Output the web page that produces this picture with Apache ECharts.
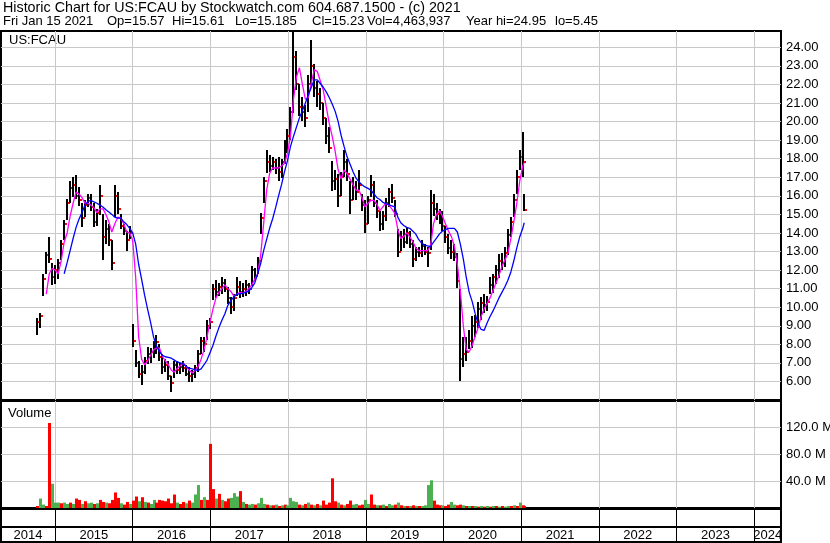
<!DOCTYPE html>
<html><head><meta charset="utf-8">
<script src="https://cdn.jsdelivr.net/npm/echarts@6/dist/echarts.min.js"></script>
<style>html,body{margin:0;padding:0;background:#fff}#c{width:830px;height:543px}</style>
</head><body><div id="c"></div>
<script>
// ---- data (bi-weekly bars) ----
const dates = [
'2014-10-10','2014-10-24','2014-11-07','2014-11-21','2014-12-05','2014-12-19',
'2015-01-02','2015-01-16','2015-01-30','2015-02-13','2015-02-27','2015-03-13','2015-03-27','2015-04-10','2015-04-24','2015-05-08','2015-05-22','2015-06-05','2015-06-19','2015-07-03','2015-07-17','2015-07-31','2015-08-14','2015-08-28','2015-09-11','2015-09-25','2015-10-09','2015-10-23','2015-11-06','2015-11-20','2015-12-04','2015-12-18',
'2016-01-01','2016-01-15','2016-01-29','2016-02-12','2016-02-26','2016-03-11','2016-03-25','2016-04-08','2016-04-22','2016-05-06','2016-05-20','2016-06-03','2016-06-17','2016-07-01','2016-07-15','2016-07-29','2016-08-12','2016-08-26','2016-09-09','2016-09-23','2016-10-07','2016-10-21','2016-11-04','2016-11-18','2016-12-02','2016-12-16','2016-12-30',
'2017-01-13','2017-01-27','2017-02-10','2017-02-24','2017-03-10','2017-03-24','2017-04-07','2017-04-21','2017-05-05','2017-05-19','2017-06-02','2017-06-16','2017-06-30','2017-07-14','2017-07-28','2017-08-11','2017-08-25','2017-09-08','2017-09-22','2017-10-06','2017-10-20','2017-11-03','2017-11-17','2017-12-01','2017-12-15','2017-12-29',
'2018-01-12','2018-01-26','2018-02-09','2018-02-23','2018-03-09','2018-03-23','2018-04-06','2018-04-20','2018-05-04','2018-05-18','2018-06-01','2018-06-15','2018-06-29','2018-07-13','2018-07-27','2018-08-10','2018-08-24','2018-09-07','2018-09-21','2018-10-05','2018-10-19','2018-11-02','2018-11-16','2018-11-30','2018-12-14','2018-12-28',
'2019-01-11','2019-01-25','2019-02-08','2019-02-22','2019-03-08','2019-03-22','2019-04-05','2019-04-19','2019-05-03','2019-05-17','2019-05-31','2019-06-14','2019-06-28','2019-07-12','2019-07-26','2019-08-09','2019-08-23','2019-09-06','2019-09-20','2019-10-04','2019-10-18','2019-11-01','2019-11-15','2019-11-29','2019-12-13','2019-12-27',
'2020-01-10','2020-01-24','2020-02-07','2020-02-21','2020-03-06','2020-03-20','2020-04-03','2020-04-17','2020-05-01','2020-05-15','2020-05-29','2020-06-12','2020-06-26','2020-07-10','2020-07-24','2020-08-07','2020-08-21','2020-09-04','2020-09-18','2020-10-02','2020-10-16','2020-10-30','2020-11-13','2020-11-27','2020-12-11','2020-12-25',
'2021-01-08','2021-01-15'];

const lows = [
8.5,8.9,10.6,11.8,12.4,11.2,11.3,11.5,12.5,13.6,
14.7,15.6,15.9,15.8,15.5,14.3,14.85,15.4,15.2,14.3,
14.4,15.0,12.5,13.4,13.3,12.0,14.85,15.0,14.2,13.9,
13.0,13.7,7.85,6.8,6.2,5.8,6.4,6.95,7.0,7.3,
7.5,7.1,6.4,6.5,6.05,5.45,6.2,6.4,6.4,6.5,
6.3,6.0,5.95,6.2,6.5,7.5,7.6,8.2,8.8,10.4,
10.5,10.6,10.7,10.8,10.2,9.65,9.8,10.6,10.5,10.55,
10.6,10.7,11.1,11.4,11.8,13.95,15.6,17.2,17.3,17.4,
17.2,16.8,17.0,17.7,18.3,19.0,20.5,21.7,20.25,20.0,
19.7,20.5,22.0,21.3,20.8,20.6,19.8,18.8,18.3,16.3,
16.3,15.4,16.0,17.0,16.8,15.0,15.76,15.8,16.3,15.2,
13.96,14.5,15.9,15.4,14.8,14.1,14.2,14.68,15.4,15.6,
14.86,12.7,13.0,13.2,13.4,13.2,12.16,12.5,12.7,12.7,
12.8,12.16,13.06,14.9,14.7,14.5,14.1,13.5,12.88,12.6,
12.5,11.0,6.06,6.8,7.1,7.7,7.8,8.4,8.9,9.3,
9.65,9.8,10.7,10.8,11.3,11.6,12.0,12.16,12.8,13.78,
14.86,16.1,17.37,17.0,15.185];

const highs = [
9.4,9.7,11.8,13.0,13.8,12.4,12.3,12.6,13.6,14.7,
15.85,16.8,17.0,17.1,16.5,15.6,15.75,16.1,16.1,15.6,
15.3,16.6,15.0,14.7,14.5,13.6,16.6,16.2,15.0,14.5,
14.1,14.4,9.1,7.7,7.1,6.9,7.3,7.85,7.8,8.2,
8.5,8.0,7.5,7.2,7.1,6.3,7.1,7.1,7.0,7.1,
6.9,6.8,6.6,6.9,7.7,8.4,8.4,9.3,9.4,11.25,
11.45,11.3,11.6,11.5,11.1,10.55,10.7,11.6,11.4,11.3,
11.45,11.3,12.2,12.1,12.7,15.1,17.0,18.45,18.2,18.1,
18.0,18.1,18.0,19.0,19.6,20.8,24.95,23.8,22.0,21.3,
20.9,22.5,24.4,23.1,22.2,21.8,21.0,20.2,19.7,17.9,
17.4,17.2,17.3,18.45,18.0,16.8,17.0,16.8,17.4,16.1,
15.76,16.0,17.1,16.8,15.76,15.2,15.2,15.9,16.4,16.65,
15.76,14.2,14.1,14.2,14.3,14.1,13.6,13.24,13.24,13.6,
13.4,13.24,16.3,16.1,15.6,15.3,15.2,14.4,13.96,13.6,
13.4,12.9,11.0,8.4,8.4,8.75,9.5,9.6,10.3,10.55,
10.7,10.6,11.6,11.8,12.3,12.88,12.9,13.24,14.2,14.86,
16.1,17.37,18.45,19.44,16.1];

const closes = [
9.2,9.5,11.5,12.8,12.6,11.6,12.0,12.4,13.4,14.5,
15.6,16.4,16.6,16.0,15.8,14.8,15.5,15.9,15.4,14.6,
15.1,16.0,13.8,14.2,13.6,12.4,16.0,15.3,14.4,14.1,
13.6,14.0,8.2,7.0,6.4,6.5,7.1,7.5,7.6,8.0,
8.1,7.3,6.8,6.9,6.3,5.9,6.9,6.6,6.8,6.7,
6.4,6.3,6.4,6.7,7.5,8.2,8.0,9.0,9.2,11.0,
10.8,11.1,11.3,11.0,10.5,10.0,10.5,11.1,10.8,11.0,
11.2,11.0,12.0,11.7,12.5,14.8,16.8,17.8,17.6,17.8,
17.5,17.3,17.8,18.6,19.2,20.5,23.5,22.0,20.8,20.5,
20.2,22.0,23.0,21.8,21.5,21.0,20.2,19.2,18.6,16.8,
16.9,16.0,17.0,17.8,17.2,15.8,16.5,16.2,16.6,15.5,
14.5,15.8,16.6,15.6,15.2,14.5,14.9,15.6,16.2,15.9,
15.0,13.0,13.8,13.5,14.0,13.4,12.6,13.0,12.9,13.3,
13.0,12.9,15.6,15.3,15.0,14.8,14.4,13.8,13.2,13.0,
12.7,11.4,7.2,7.5,7.6,8.2,9.0,9.2,9.9,10.2,
10.1,10.3,11.2,11.6,12.0,12.5,12.4,12.9,13.9,14.6,
15.8,17.0,18.1,17.8,15.23];

// magenta moving average
const maFast = [
null,null,null,10.7,11.8,12.1,12.0,11.8,12.5,13.5,
14.0,14.9,15.6,16.2,16.1,15.9,15.6,15.6,15.5,15.35,
15.1,15.3,15.3,15.0,14.6,14.05,14.5,14.85,14.8,14.5,
14.05,14.0,13.6,11.6,8.4,7.2,6.9,7.1,7.4,7.7,
7.8,7.8,7.35,7.1,6.9,6.6,6.5,6.7,6.85,7.0,
6.8,6.6,6.45,6.6,6.8,7.2,7.7,8.4,9.2,9.9,
10.5,10.8,11.0,11.2,11.0,10.85,10.6,10.7,10.8,10.75,
10.85,11.0,11.2,11.5,11.8,12.8,14.5,16.3,17.2,17.5,
17.5,17.5,17.6,17.75,18.3,19.2,21.2,22.4,22.9,22.0,
21.2,21.3,22.1,22.8,22.7,22.2,21.7,20.8,19.9,19.2,
18.4,17.4,16.9,17.4,17.2,16.9,16.6,16.3,16.3,15.9,
15.4,15.6,15.75,15.75,15.55,15.2,15.4,15.6,15.5,15.3,
15.05,14.2,13.7,13.8,14.0,13.8,13.55,13.2,13.05,13.05,
13.05,13.05,13.3,14.5,15.0,15.2,14.9,14.5,14.1,13.8,
13.3,12.3,10.9,9.0,7.7,7.6,7.95,8.45,8.9,9.5,
9.9,10.2,10.5,10.9,11.3,11.7,12.2,12.55,12.9,13.7,
14.6,15.6,16.8,17.6,17.8];

// blue moving average
const maSlow = [
null,null,null,null,null,null,null,null,null,11.8,
12.4,13.05,13.7,14.3,14.75,15.1,15.5,15.7,15.75,15.67,
15.6,15.5,15.4,15.25,15.13,15.0,14.85,14.8,14.8,14.6,
14.45,14.25,14.0,13.4,12.3,11.5,10.65,9.9,9.2,8.4,
7.9,7.6,7.4,7.33,7.3,7.25,7.15,7.05,7.0,6.95,
6.8,6.72,6.68,6.62,6.6,6.68,6.9,7.15,7.55,7.95,
8.45,8.9,9.3,9.65,10.1,10.35,10.55,10.7,10.72,10.75,
10.8,10.87,11.05,11.3,11.8,12.35,13.05,13.65,14.25,14.75,
15.35,16.0,16.6,17.3,17.9,18.65,19.2,19.7,20.2,20.6,
21.0,21.45,21.85,22.25,22.25,22.05,21.85,21.6,21.3,20.95,
20.55,20.0,19.25,18.65,18.1,17.7,17.3,16.95,16.75,16.6,
16.48,16.4,16.3,16.1,15.9,15.8,15.65,15.58,15.52,15.46,
15.4,14.85,14.55,14.4,14.3,14.25,14.1,13.95,13.65,13.45,
13.35,13.3,13.27,13.5,13.72,13.95,14.1,14.18,14.25,14.25,
14.25,14.05,13.4,12.6,11.6,10.8,10.3,9.65,9.1,8.8,
8.75,9.15,9.5,9.8,10.15,10.5,10.8,11.1,11.45,11.9,
12.5,13.2,13.8,14.25,14.55];

// volume in millions of shares, and direction (1 = up / green, -1 = down / red)
const volumes = [
3,14,5,3,126,36,8,8,7,8,
6,8,6,14,12,6,10,7,8,6,
7,12,9,8,7,12,23,15,7,5,
9,6,11,17,10,16,9,8,6,12,
8,12,11,10,14,7,20,8,6,9,
7,11,8,20,34,12,16,12,95,28,
14,21,12,10,14,15,22,17,25,9,
6,5,6,5,7,15,6,5,4,4,
5,3,4,5,4,15,10,9,5,4,
6,8,5,4,6,4,11,5,8,44,
10,8,5,4,6,11,5,6,4,5,
12,6,20,5,4,4,5,3,6,4,
5,8,4,3,3,3,4,3,3,3,
4,34,41,11,5,4,4,3,5,9,
5,4,5,4,3,3,3,3,2,3,
2,3,2,3,3,2,3,2,3,3,
4,3,8,4,3];
const volDir = [
-1,1,1,-1,-1,1,1,1,-1,1,
1,-1,1,-1,-1,1,-1,1,1,-1,
1,-1,-1,1,-1,-1,-1,-1,1,-1,
-1,1,-1,-1,1,-1,1,-1,1,1,
-1,-1,-1,-1,-1,-1,-1,1,-1,-1,
1,-1,1,1,1,-1,1,-1,-1,-1,
1,-1,1,-1,-1,1,1,1,-1,1,
-1,1,1,-1,1,1,1,-1,1,-1,
1,-1,1,-1,1,1,1,1,-1,1,
-1,1,-1,1,-1,1,-1,-1,-1,-1,
-1,1,-1,1,-1,-1,1,1,-1,-1,
1,1,-1,-1,1,-1,1,-1,1,1,
-1,1,-1,1,-1,1,-1,1,-1,1,
1,1,1,-1,-1,-1,1,-1,-1,1,
1,-1,-1,1,-1,1,-1,1,-1,1,
-1,1,-1,1,-1,1,-1,1,1,-1,
1,-1,1,-1,-1];

const yearLines = [2015,2016,2017,2018,2019,2020,2021,2022,2023,2024];
const yearNames = ['2014','2015','2016','2017','2018','2019','2020','2021','2022','2023','2024'];

// ---- helpers ----
function toYear(s){
  const p = s.split('-').map(Number);
  const t = Date.UTC(p[0], p[1]-1, p[2]);
  const a = Date.UTC(p[0],0,1), b = Date.UTC(p[0]+1,0,1);
  return p[0] + (t-a)/(b-a);
}
const XMIN = 2014.3051, XMAX = 2024.3424;
const FONT = '"Liberation Sans", Arial, sans-serif';
const GRIDC = '#c8c8c8';

const xs = dates.map(toYear);
const priceData = xs.map((x,i)=>[x, lows[i], highs[i], closes[i]]);
const fastData = xs.map((x,i)=>[x, maFast[i]]).filter(d=>d[1]!==null);
const slowData = xs.map((x,i)=>[x, maSlow[i]]).filter(d=>d[1]!==null);
const volData = xs.map((x,i)=>[x, volumes[i], volDir[i]]);
const labelPos = yearNames.map(n=>{ const y=+n; return (Math.max(y,XMIN)+Math.min(y+1,XMAX))/2; });

function xAxisFor(gi, lineColor, withLabels){
  return {
    type:'value', gridIndex: gi, min: XMIN, max: XMAX,
    axisLine:{show:false},
    axisTick:{show:false, customValues: yearLines},
    axisLabel: withLabels ? {
      show:true, customValues: labelPos, inside:true, margin:7, verticalAlign:'middle',
      formatter: v => String(Math.floor(v)), color:'#000', fontSize:13, fontFamily: FONT
    } : {show:false},
    splitLine:{show:true, lineStyle:{color: lineColor, width:1}}
  };
}
function gridAt(top, height){
  return {left:1, top:top, width:780, height:height, show:true, borderColor:'#000', borderWidth:2,
          containLabel:false, outerBoundsMode:'none'};
}

const chart = echarts.init(document.getElementById('c'), null, {renderer:'canvas'});
chart.setOption({
  animation:false,
  backgroundColor:'#fff',
  grid:[ gridAt(31,369), gridAt(401,107), gridAt(509,18), gridAt(527,15) ],
  xAxis:[
    xAxisFor(0, GRIDC, false),
    xAxisFor(1, GRIDC, false),
    xAxisFor(2, '#000', false),
    xAxisFor(3, '#000', true)
  ],
  yAxis:[
    {type:'value', gridIndex:0, position:'right', min:5, max:24.88, interval:1,
     axisLine:{show:false}, axisTick:{show:false},
     axisLabel:{formatter: v=>v.toFixed(2), showMinLabel:false, showMaxLabel:false, margin:5,
       color:'#000', fontSize:13, fontFamily:FONT},
     splitLine:{show:true, showMinLine:false, showMaxLine:false, lineStyle:{color:GRIDC, width:1}}},
    {type:'value', gridIndex:1, position:'right', min:0, max:158.5, interval:40,
     axisLine:{show:false}, axisTick:{show:false},
     axisLabel:{formatter: v=>v.toFixed(1)+' M', showMinLabel:false, showMaxLabel:false, margin:5,
       color:'#000', fontSize:13, fontFamily:FONT},
     splitLine:{show:true, showMinLine:false, showMaxLine:false, lineStyle:{color:GRIDC, width:1}}},
    {type:'value', gridIndex:2, show:false, min:0, max:1, splitLine:{show:false}},
    {type:'value', gridIndex:3, show:false, min:0, max:1, splitLine:{show:false}}
  ],
  series:[
    {type:'custom', xAxisIndex:0, yAxisIndex:0, clip:true, data: priceData,
     encode:{x:0, y:[1,2,3]},
     renderItem:(params, api)=>{
       const x=api.value(0), lo=api.value(1), hi=api.value(2), cl=api.value(3);
       const pH=api.coord([x,hi]), pL=api.coord([x,lo]), pC=api.coord([x,cl]);
       const cx=Math.round(pH[0]);
       return {type:'group', children:[
         {type:'rect', shape:{x:cx-1, y:Math.round(pH[1]), width:2, height:Math.max(2, Math.round(pL[1]-pH[1]))}, style:{fill:'#000'}},
         {type:'rect', shape:{x:cx+1, y:Math.round(pC[1])-1, width:2, height:2}, style:{fill:'#ff0000'}}
       ]};
     }},
    {type:'line', xAxisIndex:0, yAxisIndex:0, data: fastData, showSymbol:false, smooth:false,
     lineStyle:{color:'#ff00ff', width:1.3}, itemStyle:{color:'#ff00ff'}, z:3},
    {type:'line', xAxisIndex:0, yAxisIndex:0, data: slowData, showSymbol:false, smooth:false,
     lineStyle:{color:'#0000ff', width:1.3}, itemStyle:{color:'#0000ff'}, z:4},
    {type:'custom', xAxisIndex:1, yAxisIndex:1, clip:true, data: volData,
     encode:{x:0, y:1},
     renderItem:(params, api)=>{
       const x=api.value(0), v=api.value(1), d=api.value(2);
       const p0=api.coord([x,0]), p1=api.coord([x,v]);
       return {type:'rect', shape:{x:Math.round(p0[0])-1, y:p1[1], width:3, height:p0[1]-p1[1]},
         style:{fill: d>0 ? '#4caf50' : '#ff0000'}};
     }}
  ],
  graphic:[
    {type:'text', left:3, top:1, style:{text:'Historic Chart for US:FCAU by Stockwatch.com 604.687.1500 - (c) 2021', font:'14.3px '+FONT, fill:'#000'}},
    {type:'text', left:3, top:15, style:{text:'Fri Jan 15 2021', font:'13px '+FONT, fill:'#000'}},
    {type:'text', left:107, top:15, style:{text:'Op=15.57', font:'13px '+FONT, fill:'#000'}},
    {type:'text', left:172, top:15, style:{text:'Hi=15.61', font:'13px '+FONT, fill:'#000'}},
    {type:'text', left:235, top:15, style:{text:'Lo=15.185', font:'13px '+FONT, fill:'#000'}},
    {type:'text', left:312, top:15, style:{text:'Cl=15.23', font:'13px '+FONT, fill:'#000'}},
    {type:'text', left:367, top:15, style:{text:'Vol=4,463,937', font:'13px '+FONT, fill:'#000'}},
    {type:'text', left:466, top:15, style:{text:'Year hi=24.95', font:'13px '+FONT, fill:'#000'}},
    {type:'text', left:555, top:15, style:{text:'lo=5.45', font:'13px '+FONT, fill:'#000'}},
    {type:'text', left:9, top:34, style:{text:'US:FCAU', font:'13px '+FONT, fill:'#000'}},
    {type:'text', left:8, top:407, style:{text:'Volume', font:'13px '+FONT, fill:'#000'}}
  ]
});
</script></body></html>
